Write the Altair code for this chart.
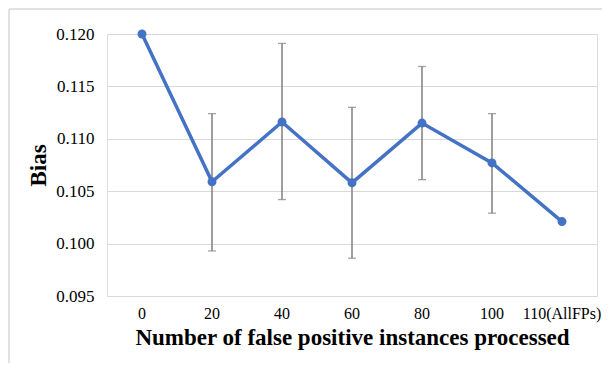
import altair as alt
import pandas as pd

categories = ["0", "20", "40", "60", "80", "100", "110(AllFPs)"]
bias = [0.1200, 0.1059, 0.1116, 0.1058, 0.1115, 0.1077, 0.1021]
err_low = [None, 0.0993, 0.1042, 0.0986, 0.1061, 0.1029, None]
err_high = [None, 0.1124, 0.1191, 0.1130, 0.1169, 0.1124, None]

df = pd.DataFrame({"cat": categories, "bias": bias, "lo": err_low, "hi": err_high})
eb = df.dropna()

W, H = 490, 262
font = "Liberation Serif"

x = alt.X("cat:N", sort=categories,
          scale=alt.Scale(paddingInner=0, paddingOuter=0),
          axis=alt.Axis(title="Number of false positive instances processed",
                        labelAngle=0, labelAlign="center", labelBaseline="top",
                        ticks=False, domain=False, labelPadding=9,
                        labelFontSize=16, labelFont=font, labelColor="#000000",
                        labelOverlap=False,
                        titleFont=font, titleFontSize=23, titleFontWeight="bold",
                        titleColor="#000000", titlePadding=5, grid=False))
y = alt.Y("bias:Q",
          scale=alt.Scale(domain=[0.095, 0.120], nice=False, zero=False),
          axis=alt.Axis(title="Bias", values=[0.095, 0.100, 0.105, 0.110, 0.115, 0.120],
                        format=".3f", ticks=False, domain=False, labelPadding=13,
                        labelFontSize=17, labelFont=font, labelColor="#000000",
                        titleFont=font, titleFontSize=23, titleFontWeight="bold",
                        titleColor="#000000", titlePadding=5,
                        grid=True, gridColor="#d9d9d9", gridWidth=1))

base = alt.Chart(df)

line = base.mark_line(color="#4472C4", strokeWidth=3.5).encode(x=x, y=y)
pts = base.mark_point(filled=True, color="#4472C4", size=80, opacity=1).encode(x=x, y=y)

ebase = alt.Chart(eb)
rule = ebase.mark_rule(color="#7f7f7f", strokeWidth=1.5).encode(
    x=alt.X("cat:N", sort=categories), y=alt.Y("lo:Q"), y2="hi:Q")
cap_lo = ebase.mark_tick(color="#7f7f7f", orient="horizontal", size=8, thickness=1.3).encode(
    x=alt.X("cat:N", sort=categories), y=alt.Y("lo:Q"))
cap_hi = ebase.mark_tick(color="#7f7f7f", orient="horizontal", size=8, thickness=1.3).encode(
    x=alt.X("cat:N", sort=categories), y=alt.Y("hi:Q"))

border_top = alt.Chart(pd.DataFrame({"a": [0]})).mark_rule(color="#d9d9d9", strokeWidth=1.5).encode(
    x=alt.value(-98), x2=alt.value(W + 5), y=alt.value(-25))
border_left = alt.Chart(pd.DataFrame({"a": [0]})).mark_rule(color="#d9d9d9", strokeWidth=1.5).encode(
    x=alt.value(-98), y=alt.value(-25), y2=alt.value(H + 67))

chart = alt.layer(border_top, border_left, rule, cap_lo, cap_hi, line, pts).properties(
    width=W, height=H,
    autosize=alt.AutoSizeParams(type="none"),
    padding={"left": 99, "top": 26, "right": 5, "bottom": 67},
).configure_view(stroke=None).configure(background="white")

chart.save("out.html", embed_options={"renderer": "svg", "actions": False})
